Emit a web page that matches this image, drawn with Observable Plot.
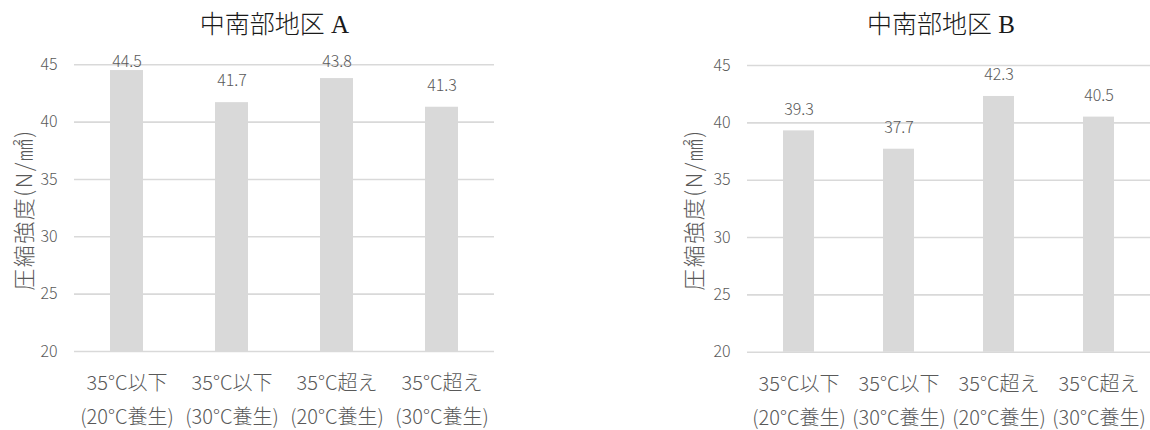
<!DOCTYPE html>
<html>
<head>
<meta charset="utf-8">
<script src="https://cdn.jsdelivr.net/npm/d3@7"></script>
<script src="https://cdn.jsdelivr.net/npm/@observablehq/plot@0.6"></script>
<style>
  html, body { margin: 0; padding: 0; background: #fff; }
  #root { position: relative; width: 1150px; height: 430px; overflow: hidden; font-family: "Noto Sans CJK JP", sans-serif; }
  .panel { position: absolute; top: 0; }
  .title { position: absolute; top: 8px; transform: translateX(-50%); white-space: nowrap;
           font-family: "Liberation Serif", "Noto Sans CJK JP", serif; font-size: 25px; color: #1a1a1a; line-height: 34px; font-weight: 300; }
  .ylab { position: absolute; white-space: nowrap; font-size: 22px; letter-spacing: 1.5px; color: #595959;
          transform: translate(-50%, -50%) rotate(-90deg); font-family: "Noto Sans CJK JP", sans-serif; font-weight: 300; }
</style>
</head>
<body>
<div id="root"></div>
<script>
// ---- data ----
const line1 = ["35°C以下", "35°C以下", "35°C超え", "35°C超え"];
const line2 = ["(20°C養生)", "(30°C養生)", "(20°C養生)", "(30°C養生)"];
const valuesA = [44.5, 41.7, 43.8, 41.3];
const valuesB = [39.3, 37.7, 42.3, 40.5];
const yTicks = [20, 25, 30, 35, 40, 45];
const titleA = "中南部地区 A";
const titleB = "中南部地区 B";
const yLabel = "圧縮強度(N/㎟)";

const categories = line1.map((l, i) => l + "\n" + line2[i]);
const root = document.getElementById("root");

function makeChart(values, opts) {
  const data = categories.map((c, i) => ({cat: c, v: values[i]}));
  const chart = Plot.plot({
    width: opts.width,
    height: 430,
    marginTop: opts.marginTop,
    marginBottom: opts.marginBottom,
    marginLeft: opts.marginLeft,
    marginRight: opts.marginRight,
    style: {fontFamily: "'Noto Sans CJK JP', sans-serif", color: "#595959", background: "transparent", fontWeight: 300},
    x: {domain: categories, paddingInner: 0.69, paddingOuter: 0.345, label: null},
    y: {domain: [20, 45], label: null},
    marks: [
      Plot.gridY(yTicks, {stroke: "#d9d9d9", strokeOpacity: 1, strokeWidth: 1.6}),
      Plot.barY(data, {x: "cat", y1: 20, y2: "v", fill: "#d9d9d9"}),
      Plot.text(data, {x: "cat", y: d => Math.min(d.v + 1.87, 45.23), text: d => d.v.toFixed(1),
                       fontSize: 16, fill: "#595959"}),
      Plot.axisY({ticks: yTicks, tickSize: 0, tickPadding: 17, fontSize: 16, label: null}),
      Plot.axisX({tickSize: 0, tickPadding: 15, fontSize: 20, lineHeight: 1.68, label: null})
    ]
  });
  const wrap = document.createElement("div");
  wrap.className = "panel";
  wrap.style.left = opts.left + "px";
  wrap.appendChild(chart);
  root.appendChild(wrap);

  const t = document.createElement("div");
  t.className = "title";
  t.style.left = opts.titleX + "px";
  t.textContent = opts.title;
  root.appendChild(t);

  const yl = document.createElement("div");
  yl.className = "ylab";
  yl.style.left = opts.yLabelX + "px";
  yl.style.top = "210px";
  yl.textContent = yLabel;
  root.appendChild(yl);
}

makeChart(valuesA, {left: 0, width: 520, marginTop: 64.3, marginBottom: 79, marginLeft: 74, marginRight: 26,
                    title: titleA, titleX: 274.5, yLabelX: 22});
makeChart(valuesB, {left: 640, width: 510, marginTop: 65, marginBottom: 78.3, marginLeft: 107, marginRight: 0,
                    title: titleB, titleX: 941, yLabelX: 692});
</script>
</body>
</html>
